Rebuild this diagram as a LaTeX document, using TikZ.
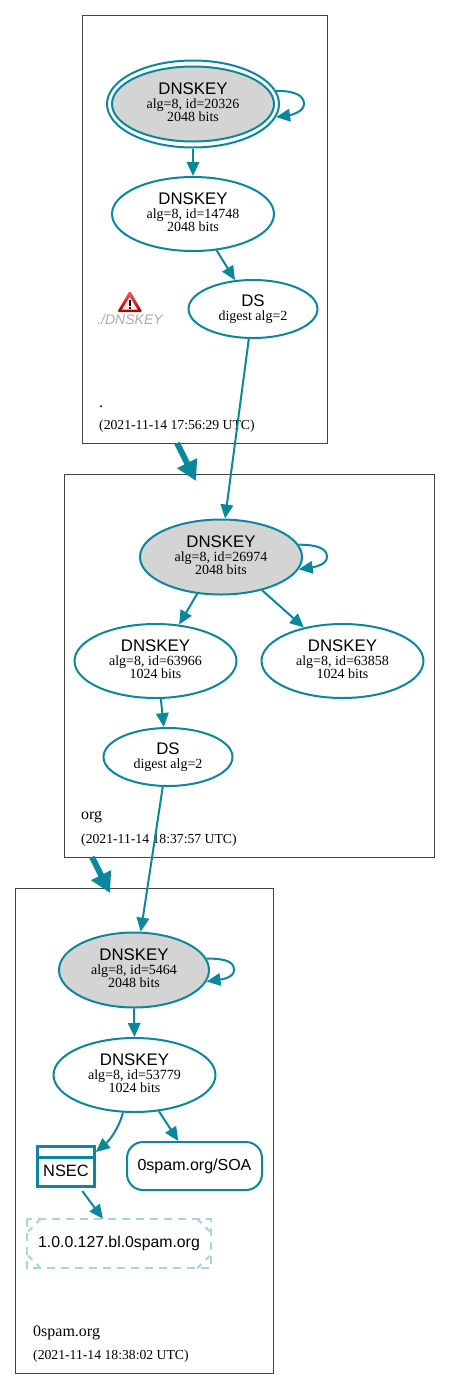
\documentclass[tikz,border=0pt]{standalone}
\usepackage{fontspec}
\setmainfont{Liberation Serif}
\newfontfamily\lsans{Liberation Sans}
\usetikzlibrary{arrows.meta,shapes.geometric}
\definecolor{teal}{HTML}{0A879A}
\definecolor{boxgray}{HTML}{444444}
\definecolor{dashblue}{HTML}{AAD5DE}
\newcommand{\titlefont}{\lsans\fontsize{16.8}{13}\selectfont}
\newcommand{\labfont}{\fontsize{16}{18}\selectfont}
\newcommand{\dnstext}[3]{{\titlefont #1}\\[1.7pt]{#2}\\{#3\rule[-4pt]{0pt}{4pt}}}
\newcommand{\dstext}[1]{{\titlefont DS}\\[1pt]{#1}}
\tikzset{
  zone/.style={draw=boxgray,line width=0.8pt,inner sep=0pt},
  keynode/.style={ellipse,draw=teal,line width=2pt,inner sep=0pt,align=center,font=\fontsize{14}{13}\selectfont},
  ksk/.style={keynode,fill=black!17,minimum width=162pt,minimum height=75pt},
  zsk/.style={keynode,minimum width=162pt,minimum height=74pt},
  dsnode/.style={keynode,minimum width=129pt,minimum height=58pt},
  edge/.style={draw=teal,line width=2pt,-{Triangle[length=14pt,width=12.5pt,fill=teal]}},
  bold/.style={draw=teal,line width=6pt,-{Triangle[length=20pt,width=21pt,fill=teal]}},
  zonelab/.style={anchor=base west,inner sep=0pt,font=\labfont},
  stamp/.style={anchor=base west,inner sep=0pt,font=\fontsize{13.7}{14}\selectfont},
  rrset/.style={draw=teal,line width=2pt,rounded corners=16pt,inner sep=0pt,font=\lsans\fontsize{16}{18}\selectfont},
  dashline/.style={draw=dashblue,line width=2pt,dash pattern=on 8pt off 6pt},
  chamfer/.style={draw=dashblue,line width=2pt,dash pattern=on 6pt off 6pt}
}
\begin{document}
\begin{tikzpicture}[x=1pt,y=-1pt]
\useasboundingbox (0,0) rectangle (451,1390);
% zones
\node[zone,minimum width=245pt,minimum height=427.5pt] (zroot) at (205,229.25) {};
\node[zone,minimum width=370pt,minimum height=383pt] (zorg) at (249,665.5) {};
\node[zone,minimum width=257.5pt,minimum height=485pt] (zspam) at (144.25,1130.5) {};
% root
\node[keynode,minimum width=172pt,minimum height=87pt] (rootouter) at (193,104) {};
\node[ksk] (rootksk) at (193,104) {\dnstext{DNSKEY}{alg=8, id=20326}{2048 bits}};
\node[zsk] (rootzsk) at (193,214) {\dnstext{DNSKEY}{alg=8, id=14748}{2048 bits}};
\node[dsnode] (rootds) at (253,309) {\dstext{digest alg=2}};
% warning
\shade[top color=red!65!white,bottom color=red!65!black,rounded corners=1.5pt] (129.8,290.5) -- (142.5,312) -- (117.2,312) -- cycle;
\fill[red!8!white] (129.8,297) -- (137.5,309.5) -- (122,309.5) -- cycle;
\fill[black] (128.6,299.5) rectangle (131,305.5);
\fill[black] (128.6,306.5) rectangle (131,308.8);
\node[anchor=base,inner sep=0pt,text=black!33,font=\lsans\itshape\fontsize{14}{14}\selectfont] (warn) at (130,324.5) {./DNSKEY};
\node[zonelab] (rootname) at (99,407) {.};
\node[stamp] (rootstamp) at (99,429) {(2021-11-14 17:56:29 UTC)};
% org
\node[ksk] (orgksk) at (221,557) {\dnstext{DNSKEY}{alg=8, id=26974}{2048 bits}};
\node[zsk] (orgzsk) at (155.5,661) {\dnstext{DNSKEY}{alg=8, id=63966}{1024 bits}};
\node[zsk] (orgzskb) at (342.5,661) {\dnstext{DNSKEY}{alg=8, id=63858}{1024 bits}};
\node[dsnode] (orgds) at (168,757) {\dstext{digest alg=2}};
\node[zonelab] (orgname) at (81,819) {org};
\node[stamp] (orgstamp) at (81,843) {(2021-11-14 18:37:57 UTC)};
% 0spam
\node[keynode,fill=black!17,minimum width=150pt,minimum height=75pt] (spamksk) at (134,970) {\dnstext{DNSKEY}{alg=8, id=5464}{2048 bits}};
\node[zsk] (spamzsk) at (134.5,1075) {\dnstext{DNSKEY}{alg=8, id=53779}{1024 bits}};
\node[draw=teal,line width=2.6pt,minimum width=57pt,minimum height=40pt,inner sep=0pt,font=\lsans\fontsize{16.4}{18}\selectfont] (nsec) at (66,1166.5) {\raisebox{-9.5pt}[0pt][0pt]{NSEC}};
\draw[teal,line width=2.6pt] ([yshift=-12.5pt]nsec.north west) -- ([yshift=-12.5pt]nsec.north east);
\node[rrset,minimum width=135pt,minimum height=48pt] (soa) at (194.5,1166) {0spam.org/SOA};
\node[minimum width=184pt,minimum height=49pt,inner sep=0pt,font=\lsans\fontsize{15.8}{18}\selectfont] (nx) at (119,1243.5) {1.0.0.127.bl.0spam.org};
\draw[dashline] (nx.north west) rectangle (nx.south east);
\draw[chamfer] ([xshift=14pt]nx.north west) -- ([yshift=-14pt]nx.north west);
\draw[chamfer] ([xshift=-14pt]nx.north east) -- ([yshift=-14pt]nx.north east);
\draw[chamfer] ([xshift=14pt]nx.south west) -- ([yshift=14pt]nx.south west);
\draw[chamfer] ([xshift=-14pt]nx.south east) -- ([yshift=14pt]nx.south east);
\node[zonelab] (spamname) at (33,1336) {0spam.org};
\node[stamp] (spamstamp) at (33,1359) {(2021-11-14 18:38:02 UTC)};
% coordinates
\coordinate (bolda) at (177,443);
\coordinate (boldaend) at (196,481);
\coordinate (boldb) at (92,857);
\coordinate (boldbend) at (110,893);
\coordinate (looproot) at (304,104);
\coordinate (looporg) at (327,557);
\coordinate (loopspam) at (234,970);
% edges
\draw[edge] (rootouter.270) -- (rootzsk.90);
\draw[edge] (rootzsk.-57) -- (rootds.122);
\draw[edge] (rootds.262) -- (orgksk.84);
\draw[edge] (orgksk.-123) -- (orgzsk.57);
\draw[edge] (orgksk.-39.4) -- (orgzskb.139);
\draw[edge] (orgzsk.-82) -- (orgds.98);
\draw[edge] (orgds.-100) -- (spamksk.80);
\draw[edge] (spamksk.270) -- (spamzsk.90);
\draw[edge] (spamzsk.-107) .. controls +(-5,18) and +(12,-10) .. (nsec.26.6);
\draw[edge] (spamzsk.-56) -- (soa.123);
\draw[edge,shorten <=4pt] (nsec.-57) -- (nx.123);
\draw[edge] (rootouter.9) .. controls +(20,0) and +(0,-8) .. (looproot) .. controls +(0,8) and +(14,-2) .. (rootouter.-9);
\draw[edge] (orgksk.9.7) .. controls +(20,0) and +(0,-8) .. (looporg) .. controls +(0,8) and +(14,-2) .. (orgksk.-9.7);
\draw[edge] (spamksk.9.7) .. controls +(20,0) and +(0,-8) .. (loopspam) .. controls +(0,8) and +(14,-2) .. (spamksk.-9.7);
\draw[bold] (bolda) -- (boldaend);
\draw[bold] (boldb) -- (boldbend);
\end{tikzpicture}
\end{document}
